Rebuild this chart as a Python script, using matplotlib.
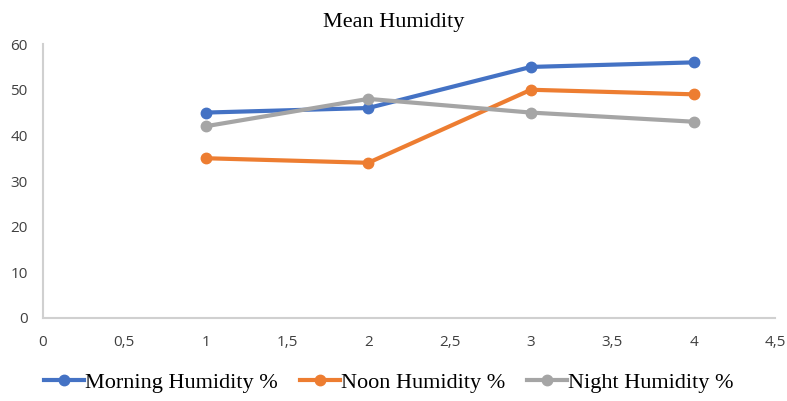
import matplotlib.pyplot as plt
from matplotlib.ticker import FuncFormatter

x_values = [1, 2, 3, 4]
morning = [45, 46, 55, 56]
noon = [35, 34, 50, 49]
night = [42, 48, 45, 43]

series_names = ["Morning Humidity %", "Noon Humidity %", "Night Humidity %"]
colors = ["#4472C4", "#ED7D31", "#A5A5A5"]

fig = plt.figure(figsize=(7.87, 4.01), dpi=100)
ax = fig.add_axes([0.0546, 0.207, 0.93, 0.683])

for values, name, color in zip([morning, noon, night], series_names, colors):
    ax.plot(x_values, values, color=color, linewidth=3, marker="o",
            markersize=7.5, label=name)

ax.set_xlim(0, 4.5)
ax.set_ylim(0, 60)
ax.set_xticks([0, 0.5, 1, 1.5, 2, 2.5, 3, 3.5, 4, 4.5])
ax.set_yticks([0, 10, 20, 30, 40, 50, 60])
ax.xaxis.set_major_formatter(FuncFormatter(lambda v, p: f"{v:g}".replace(".", ",")))

for side in ["top", "right"]:
    ax.spines[side].set_visible(False)
for side in ["left", "bottom"]:
    ax.spines[side].set_color("#D0D0D0")
    ax.spines[side].set_linewidth(1.5)

ax.tick_params(length=0, labelsize=11, labelcolor="#404040")
ax.tick_params(axis="y", pad=11)
ax.tick_params(axis="x", pad=12)
for lab in ax.get_xticklabels() + ax.get_yticklabels():
    lab.set_fontfamily("Open Sans")

fig.suptitle("Mean Humidity", y=0.968, fontsize=16, family="Liberation Serif")

fig.legend(loc="center", bbox_to_anchor=(0.494, 0.045), ncol=3, frameon=False,
           prop={"family": "Liberation Serif", "size": 16},
           handlelength=1.8, handletextpad=0.05, columnspacing=1.0)

fig.savefig("out.png", dpi=100)
plt.close(fig)
